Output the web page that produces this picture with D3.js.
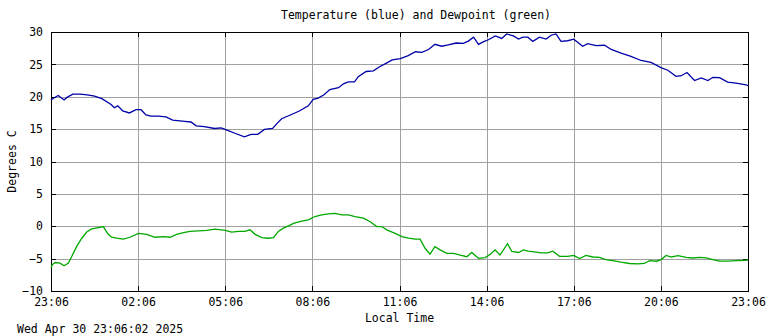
<!DOCTYPE html>
<html>
<head>
<meta charset="utf-8">
<script src="https://cdn.jsdelivr.net/npm/d3@7"></script>
<style>
  body { margin: 0; background: #fff; }
  text { font-family: "DejaVu Sans Mono", monospace; font-size: 11.5px; fill: #000; }
</style>
</head>
<body>
<div id="chart"></div>
<script>
// hours since 23:06 on the x axis
const timeLabels = ["23:06", "02:06", "05:06", "08:06", "11:06", "14:06", "17:06", "20:06", "23:06"]
const tickHours = [0, 3, 6, 9, 12, 15, 18, 21, 24]
const yTicks = [-10, -5, 0, 5, 10, 15, 20, 25, 30]

const tempHours = [0, 0.1, 0.25, 0.45, 0.55, 0.75, 1.0, 1.25, 1.5, 1.75, 2.07, 2.18, 2.3, 2.47, 2.7, 2.93, 3.1, 3.27, 3.44, 3.7, 3.96,
  4.19, 4.6, 4.82, 5.0, 5.28, 5.63, 5.86, 6.08, 6.31, 6.66, 6.89, 7.12, 7.35, 7.63, 7.81, 7.94, 8.3, 8.55, 8.86, 9.03, 9.2, 9.4, 9.6,
  9.9, 10.07, 10.24, 10.45, 10.58, 10.85, 11.1, 11.3, 11.55, 11.75, 12.03, 12.3, 12.55, 12.77, 13.0, 13.22, 13.45, 13.68, 13.95,
  14.2, 14.37, 14.55, 14.72, 14.9, 15.06, 15.3, 15.52, 15.69, 15.92, 16.1, 16.25, 16.42, 16.59, 16.82, 17.05, 17.22, 17.39, 17.56,
  17.79, 18.0, 18.31, 18.48, 18.77, 19.06, 19.29, 19.63, 19.97, 20.32, 20.66, 21.0, 21.24, 21.52, 21.7, 21.9, 22.16, 22.39, 22.62,
  22.79, 23.02, 23.3, 23.59, 23.94, 24]
const tempC = [19.5, 19.8, 20.2, 19.5, 19.9, 20.4, 20.4, 20.3, 20.1, 19.7, 18.8, 18.3, 18.6, 17.8, 17.5, 18.0, 18.0, 17.2, 17.0, 17.0, 16.9,
  16.4, 16.2, 16.1, 15.5, 15.4, 15.1, 15.2, 14.8, 14.4, 13.8, 14.2, 14.2, 14.95, 15.1, 16.0, 16.6, 17.3, 17.8, 18.6, 19.6, 19.8, 20.3, 21.1,
  21.4, 22.0, 22.3, 22.3, 23.1, 23.9, 24.0, 24.6, 25.2, 25.7, 25.9, 26.35, 26.95, 26.85, 27.3, 28.1, 27.8, 28.0, 28.3,
  28.25, 28.6, 29.2, 28.1, 28.5, 28.8, 29.4, 29.0, 29.7, 29.4, 28.9, 29.2, 29.2, 28.55, 29.2, 28.9, 29.5, 29.7, 28.55,
  28.65, 28.9, 27.8, 28.2, 27.9, 27.95, 27.3, 26.75, 26.25, 25.6, 25.3, 24.5, 24.1, 23.15, 23.25, 23.75, 22.5, 22.9, 22.5,
  23.0, 22.95, 22.25, 22.1, 21.85, 21.7]

const dewHours = [0, 0.05, 0.15, 0.31, 0.45, 0.6, 0.71, 0.88, 1.06, 1.23, 1.4, 1.63, 1.8, 1.97, 2.09, 2.26, 2.49, 2.72, 3.01, 3.3, 3.58,
  3.87, 4.1, 4.33, 4.56, 4.79, 5.07, 5.36, 5.65, 6.0, 6.22, 6.45, 6.68, 6.85, 7.03, 7.26, 7.49, 7.66, 7.83, 8.0, 8.2, 8.35, 8.63, 8.86,
  9.09, 9.32, 9.55, 9.78, 10.01, 10.24, 10.47, 10.76, 10.99, 11.22, 11.39, 11.56, 11.85, 12.08, 12.31, 12.54, 12.71, 12.88, 13.05,
  13.22, 13.4, 13.63, 13.86, 14.09, 14.32, 14.49, 14.72, 14.95, 15.12, 15.29, 15.46, 15.72, 15.87, 16.1, 16.27, 16.42, 16.65, 16.87,
  17.1, 17.28, 17.51, 17.79, 18.0, 18.2, 18.42, 18.66, 18.88, 19.11, 19.34, 19.63, 19.92, 20.2, 20.43, 20.61, 20.84, 21.01, 21.18,
  21.36, 21.59, 21.87, 22.1, 22.33, 22.56, 22.79, 23.02, 23.3, 23.59, 23.94, 24]
const dewC = [-6.4, -5.9, -5.6, -5.7, -6.1, -5.7, -4.7, -3.15, -1.85, -0.9, -0.4, -0.2, -0.05, -1.25, -1.7, -1.85, -2.0, -1.7, -1.1, -1.25, -1.7,
  -1.6, -1.7, -1.25, -1.0, -0.8, -0.7, -0.65, -0.45, -0.65, -0.9, -0.8, -0.8, -0.55, -1.25, -1.75, -1.85, -1.75, -0.8, -0.3, 0.1, 0.45, 0.8, 1.0,
  1.5, 1.75, 1.9, 2.0, 1.75, 1.75, 1.5, 1.25, 0.7, -0.05, -0.05, -0.55, -1.1, -1.6, -1.85, -2.0, -2.0, -3.4, -4.3,
  -3.15, -3.65, -4.2, -4.2, -4.45, -4.7, -4.05, -4.95, -4.85, -4.35, -3.65, -4.45, -2.7, -3.9, -4.05, -3.65, -3.85, -3.95, -4.1,
  -4.1, -3.85, -4.65, -4.65, -4.5, -5.0, -4.5, -4.75, -4.8, -5.15, -5.3, -5.55, -5.75, -5.8, -5.75, -5.3, -5.4, -5.15, -4.5,
  -4.75, -4.55, -4.8, -4.9, -4.8, -4.9, -5.15, -5.4, -5.4, -5.3, -5.25, -5.2]

const margin = { top: 32, right: 20, bottom: 45, left: 51 }
const width = 768 - margin.left - margin.right
const height = 336 - margin.top - margin.bottom

const svg = d3.select("#chart")
              .append("svg")
              .attr("width", 768)
              .attr("height", 336)

const graph = svg.append("g")
                 .attr("transform", "translate(" + margin.left + "," + margin.top + ")")

const x = d3.scaleLinear().domain([0, 24]).range([0, width])
const y = d3.scaleLinear().domain([-10, 30]).range([height, 0])

// grid
graph.append("g")
     .selectAll("line")
     .data(tickHours.slice(1, -1))
     .join("line")
     .attr("x1", d => Math.round(x(d)) + 0.5)
     .attr("x2", d => Math.round(x(d)) + 0.5)
     .attr("y1", 0)
     .attr("y2", height)
     .attr("stroke", "#a0a0a0")
     .attr("shape-rendering", "crispEdges")

graph.append("g")
     .selectAll("line")
     .data(yTicks.slice(1, -1))
     .join("line")
     .attr("y1", d => Math.round(y(d)) + 0.5)
     .attr("y2", d => Math.round(y(d)) + 0.5)
     .attr("x1", 0)
     .attr("x2", width)
     .attr("stroke", "#a0a0a0")
     .attr("shape-rendering", "crispEdges")

// axes with inward ticks
const fmt = (d, i) => timeLabels[i]
const bottom = graph.append("g")
     .attr("transform", "translate(0," + height + ")")
     .call(d3.axisBottom(x).tickValues(tickHours).tickFormat(fmt).tickSize(-5).tickPadding(7))
const left = graph.append("g")
     .call(d3.axisLeft(y).tickValues(yTicks).tickFormat(d3.format("d")).tickSize(-5).tickPadding(8))
graph.append("g")
     .call(d3.axisTop(x).tickValues(tickHours).tickFormat("").tickSize(-5))
graph.append("g")
     .attr("transform", "translate(" + width + ",0)")
     .call(d3.axisRight(y).tickValues(yTicks).tickFormat("").tickSize(-5))

graph.selectAll(".domain").remove()
graph.selectAll(".tick line").attr("stroke", "#000").attr("shape-rendering", "crispEdges")
graph.selectAll(".tick text").style("font-family", "'DejaVu Sans Mono', monospace").style("font-size", "11.5px")

graph.append("rect")
     .attr("x", 0.5)
     .attr("y", 0.5)
     .attr("width", width)
     .attr("height", height)
     .attr("fill", "none")
     .attr("stroke", "#000")
     .attr("shape-rendering", "crispEdges")

const line = d3.line()
               .x(d => x(d[0]))
               .y(d => y(d[1]))

graph.append("path")
     .datum(tempHours.map((h, i) => [h, tempC[i]]))
     .attr("fill", "none")
     .attr("stroke", "#0000a8")
     .attr("stroke-width", 1.3)
     .attr("d", line)

graph.append("path")
     .datum(dewHours.map((h, i) => [h, dewC[i]]))
     .attr("fill", "none")
     .attr("stroke", "#00a800")
     .attr("stroke-width", 1.3)
     .attr("d", line)

// labels
svg.append("text")
   .attr("x", 416)
   .attr("y", 19)
   .attr("text-anchor", "middle")
   .text("Temperature (blue) and Dewpoint (green)")

svg.append("text")
   .attr("x", margin.left + width / 2)
   .attr("y", 322)
   .attr("text-anchor", "middle")
   .text("Local Time")

svg.append("text")
   .attr("transform", "translate(16," + (margin.top + height / 2) + ") rotate(-90)")
   .attr("text-anchor", "middle")
   .text("Degrees C")

svg.append("text")
   .attr("x", 17)
   .attr("y", 333)
   .text("Wed Apr 30 23:06:02 2025")
</script>
</body>
</html>
